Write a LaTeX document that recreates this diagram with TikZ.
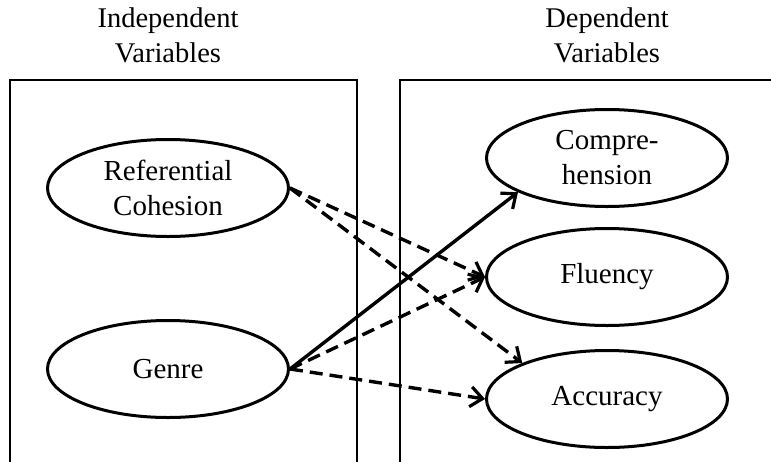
\documentclass[tikz,border=0pt]{standalone}
\usepackage{fontspec}
\setmainfont{Liberation Serif}
\usetikzlibrary{shapes.geometric,arrows.meta}
\begin{document}
\begin{tikzpicture}[x=1pt,y=-1pt,
  var/.style={ellipse,draw,line width=3pt,minimum width=241,minimum height=97,inner sep=0pt,align=center,font=\fontsize{29}{35}\selectfont},
  title/.style={align=center,font=\fontsize{28.5}{35}\selectfont},
  panel/.style={draw,line width=2.6pt},
  dep/.style={line width=3.4pt,dash pattern=on 13pt off 7pt,-{Straight Barb[length=12pt,width=20pt,line width=3.2pt]}},
  sol/.style={line width=3.4pt,-{Straight Barb[length=12pt,width=20pt,line width=3.2pt]}}]
\useasboundingbox (0,0) rectangle (771,461);
\clip (0,0) rectangle (771,461);
\node[title] (ti) at (168,35) {Independent\\Variables};
\node[title] (td) at (607,35) {Dependent\\Variables};
\draw[panel] (10,475) -- (10,80) -- (357,80) -- (357,475);
\draw[panel] (400,475) -- (400,80) -- (780,80);
\node[var] (rc) at (168,188) {Referential\\Cohesion};
\node[var] (ge) at (168,369) {Genre};
\node[var] (co) at (607,158) {Compre-\\hension};
\node[var] (fl) at (607,277) {Fluency};
\node[var] (ac) at (607,399) {Accuracy};
\draw[dep] (rc.east) -- (fl.west);
\draw[dep] (rc.east) -- (ac.157);
\draw[sol] (ge.east) -- (co.201);
\draw[dep] (ge.east) -- (fl.west);
\draw[dep] (ge.east) -- (ac.west);
\end{tikzpicture}
\end{document}
